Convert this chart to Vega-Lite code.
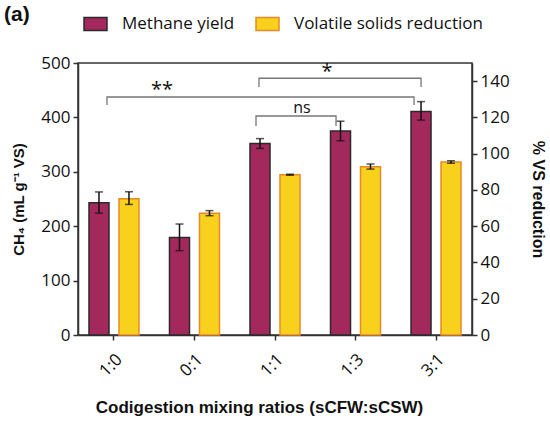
{
  "$schema": "https://vega.github.io/schema/vega-lite/v6.json",
  "width": 394,
  "height": 272,
  "autosize": {"type": "none"},
  "padding": {"left": 78, "top": 63, "right": 78, "bottom": 86},
  "title": {
    "text": "(a)",
    "anchor": "start",
    "frame": "group",
    "dx": -74,
    "dy": 26,
    "offset": 12,
    "fontSize": 21,
    "fontWeight": "bold",
    "font": "Liberation Sans",
    "color": "#111"
  },
  "datasets": {
    "methane": [
      {"ratio": "1:0", "series": "Methane yield", "value": 243, "lo": 224, "hi": 263},
      {"ratio": "0:1", "series": "Methane yield", "value": 179, "lo": 155, "hi": 204},
      {"ratio": "1:1", "series": "Methane yield", "value": 352, "lo": 343, "hi": 361},
      {"ratio": "1:3", "series": "Methane yield", "value": 375, "lo": 357, "hi": 393},
      {"ratio": "3:1", "series": "Methane yield", "value": 411, "lo": 395, "hi": 429}
    ],
    "vs": [
      {"ratio": "1:0", "series": "Volatile solids reduction", "value": 75.2, "lo": 72, "hi": 79},
      {"ratio": "0:1", "series": "Volatile solids reduction", "value": 67.1, "lo": 65.8, "hi": 68.6},
      {"ratio": "1:1", "series": "Volatile solids reduction", "value": 88.4, "lo": 88.1, "hi": 88.7},
      {"ratio": "1:3", "series": "Volatile solids reduction", "value": 92.8, "lo": 91.5, "hi": 94.3},
      {"ratio": "3:1", "series": "Volatile solids reduction", "value": 95.4, "lo": 94.7, "hi": 96.1}
    ],
    "brackets": [
      {"pair": "**", "step": 1, "pos": -0.087, "level": 423},
      {"pair": "**", "step": 2, "pos": -0.087, "level": 437.5},
      {"pair": "**", "step": 3, "pos": 3.727, "level": 437.5},
      {"pair": "**", "step": 4, "pos": 3.727, "level": 423},
      {"pair": "*", "step": 1, "pos": 1.801, "level": 456},
      {"pair": "*", "step": 2, "pos": 1.801, "level": 472},
      {"pair": "*", "step": 3, "pos": 3.814, "level": 472},
      {"pair": "*", "step": 4, "pos": 3.814, "level": 456},
      {"pair": "ns", "step": 1, "pos": 1.764, "level": 384},
      {"pair": "ns", "step": 2, "pos": 1.764, "level": 402.6},
      {"pair": "ns", "step": 3, "pos": 2.758, "level": 402.6},
      {"pair": "ns", "step": 4, "pos": 2.758, "level": 384}
    ],
    "marks": [
      {"label": "**", "pos": 0.596, "level": 450, "big": 1},
      {"label": "*", "pos": 2.646, "level": 483, "big": 1},
      {"label": "ns", "pos": 2.335, "level": 417, "big": 0}
    ]
  },
  "layer": [
    {
      "layer": [
        {
          "data": {"name": "methane"},
          "encoding": {
            "x": {
              "field": "ratio",
              "type": "nominal",
              "sort": ["1:0", "0:1", "1:1", "1:3", "3:1"],
              "scale": {"paddingInner": 0.3, "paddingOuter": 0.097},
              "title": "Codigestion mixing ratios  (sCFW:sCSW)",
              "axis": {"labelAngle": -45, "labelPadding": 11, "titleX": 181}
            },
            "xOffset": {
              "field": "series",
              "scale": {
                "domain": ["Methane yield", "Volatile solids reduction"],
                "paddingInner": 0.333,
                "paddingOuter": 0.106
              }
            }
          },
          "layer": [
            {
              "mark": {"type": "bar", "strokeWidth": 1.5},
              "encoding": {
                "y": {
                  "field": "value",
                  "type": "quantitative",
                  "scale": {"domain": [0, 500], "nice": false},
                  "title": "CH₄  (mL g⁻¹ VS)",
                  "axis": {"orient": "left", "values": [0, 100, 200, 300, 400, 500], "titleFontSize": 15}
                },
                "fill": {
                  "field": "series",
                  "type": "nominal",
                  "scale": {
                    "domain": ["Methane yield", "Volatile solids reduction"],
                    "range": ["#A3295D", "#F7D11C"]
                  },
                  "legend": {"title": null}
                },
                "stroke": {
                  "field": "series",
                  "type": "nominal",
                  "scale": {
                    "domain": ["Methane yield", "Volatile solids reduction"],
                    "range": ["#2a2a2a", "#E8892A"]
                  },
                  "legend": {"title": null}
                }
              }
            },
            {
              "mark": {"type": "rule", "color": "#111", "strokeWidth": 1.5},
              "encoding": {
                "y": {
                  "field": "lo",
                  "type": "quantitative",
                  "scale": {"domain": [0, 500], "nice": false},
                  "title": "CH₄  (mL g⁻¹ VS)",
                  "axis": {"orient": "left", "values": [0, 100, 200, 300, 400, 500], "titleFontSize": 15}
                },
                "y2": {"field": "hi"}
              }
            },
            {
              "mark": {"type": "tick", "orient": "horizontal", "size": 8, "thickness": 1.5, "color": "#111"},
              "encoding": {
                "y": {
                  "field": "lo",
                  "type": "quantitative",
                  "scale": {"domain": [0, 500], "nice": false},
                  "title": "CH₄  (mL g⁻¹ VS)",
                  "axis": {"orient": "left", "values": [0, 100, 200, 300, 400, 500], "titleFontSize": 15}
                }
              }
            },
            {
              "mark": {"type": "tick", "orient": "horizontal", "size": 8, "thickness": 1.5, "color": "#111"},
              "encoding": {
                "y": {
                  "field": "hi",
                  "type": "quantitative",
                  "scale": {"domain": [0, 500], "nice": false},
                  "title": "CH₄  (mL g⁻¹ VS)",
                  "axis": {"orient": "left", "values": [0, 100, 200, 300, 400, 500], "titleFontSize": 15}
                }
              }
            }
          ]
        },
        {
          "data": {"name": "vs"},
          "encoding": {
            "x": {
              "field": "ratio",
              "type": "nominal",
              "sort": ["1:0", "0:1", "1:1", "1:3", "3:1"]
            },
            "xOffset": {"field": "series"}
          },
          "layer": [
            {
              "mark": {"type": "bar", "strokeWidth": 1.5},
              "encoding": {
                "y": {
                  "field": "value",
                  "type": "quantitative",
                  "scale": {"domain": [0, 150], "nice": false},
                  "title": "% VS reduction",
                  "axis": {"orient": "right", "values": [0, 20, 40, 60, 80, 100, 120, 140], "titlePadding": 20}
                },
                "fill": {"field": "series", "type": "nominal"},
                "stroke": {"field": "series", "type": "nominal"}
              }
            },
            {
              "mark": {"type": "rule", "color": "#111", "strokeWidth": 1.5},
              "encoding": {
                "y": {
                  "field": "lo",
                  "type": "quantitative",
                  "scale": {"domain": [0, 150], "nice": false},
                  "title": "% VS reduction",
                  "axis": {"orient": "right", "values": [0, 20, 40, 60, 80, 100, 120, 140], "titlePadding": 20}
                },
                "y2": {"field": "hi"}
              }
            },
            {
              "mark": {"type": "tick", "orient": "horizontal", "size": 8, "thickness": 1.5, "color": "#111"},
              "encoding": {
                "y": {
                  "field": "lo",
                  "type": "quantitative",
                  "scale": {"domain": [0, 150], "nice": false},
                  "title": "% VS reduction",
                  "axis": {"orient": "right", "values": [0, 20, 40, 60, 80, 100, 120, 140], "titlePadding": 20}
                }
              }
            },
            {
              "mark": {"type": "tick", "orient": "horizontal", "size": 8, "thickness": 1.5, "color": "#111"},
              "encoding": {
                "y": {
                  "field": "hi",
                  "type": "quantitative",
                  "scale": {"domain": [0, 150], "nice": false},
                  "title": "% VS reduction",
                  "axis": {"orient": "right", "values": [0, 20, 40, 60, 80, 100, 120, 140], "titlePadding": 20}
                }
              }
            }
          ]
        }
      ],
      "resolve": {"scale": {"y": "independent"}}
    },
    {
      "layer": [
        {
          "data": {"name": "brackets"},
          "mark": {"type": "line", "color": "#777", "strokeWidth": 1.3},
          "encoding": {
            "x": {"field": "pos", "type": "quantitative", "scale": {"domain": [-0.447, 4.447], "nice": false}, "axis": null},
            "y": {"field": "level", "type": "quantitative", "scale": {"domain": [0, 500], "nice": false}, "axis": null},
            "detail": {"field": "pair"},
            "order": {"field": "step"}
          }
        },
        {
          "data": {"name": "marks"},
          "mark": {"type": "text", "baseline": "middle", "font": "Open Sans", "color": "#111"},
          "encoding": {
            "x": {"field": "pos", "type": "quantitative", "scale": {"domain": [-0.447, 4.447], "nice": false}, "axis": null},
            "y": {"field": "level", "type": "quantitative", "scale": {"domain": [0, 500], "nice": false}, "axis": null},
            "text": {"field": "label"},
            "size": {"field": "big", "type": "quantitative", "scale": {"domain": [0, 1], "range": [16, 20]}, "legend": null}
          }
        }
      ]
    }
  ],
  "resolve": {"scale": {"x": "independent", "y": "independent"}},
  "config": {
    "font": "Open Sans",
    "view": {"stroke": "#333", "strokeWidth": 1.5},
    "axis": {
      "grid": false,
      "domainColor": "#333",
      "domainWidth": 1.5,
      "tickColor": "#333",
      "tickWidth": 1.5,
      "tickSize": 5,
      "labelFont": "Open Sans",
      "labelFontSize": 17,
      "labelColor": "#111",
      "labelPadding": 3,
      "labelOverlap": false,
      "titleFont": "Liberation Sans",
      "titleFontSize": 16,
      "titleFontWeight": "bold",
      "titleColor": "#111",
      "titlePadding": 14
    },
    "axisX": {"titleFontSize": 17, "titlePadding": 20},
    "legend": {
      "orient": "none",
      "direction": "horizontal",
      "legendX": 5,
      "legendY": -52,
      "padding": 0,
      "labelFont": "Open Sans",
      "labelFontSize": 17,
      "labelColor": "#111",
      "labelLimit": 400,
      "labelOffset": 14,
      "columnPadding": 18,
      "symbolType": "M-1,-0.57H1V0.57H-1Z",
      "symbolSize": 529,
      "symbolStrokeWidth": 1.5
    }
  }
}
